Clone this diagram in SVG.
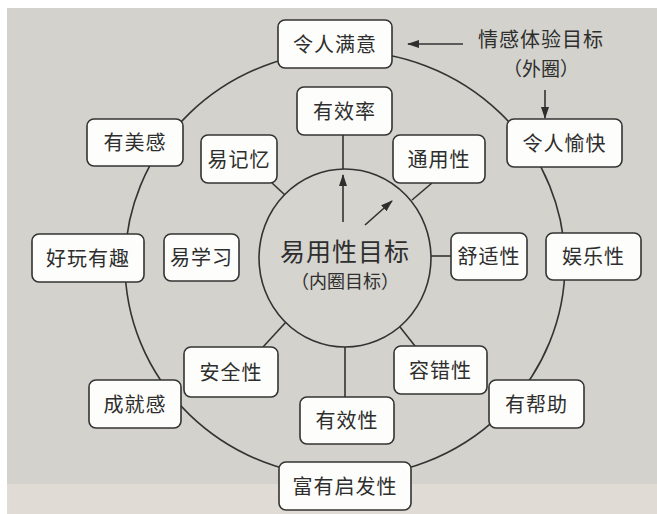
<svg xmlns="http://www.w3.org/2000/svg" width="657" height="514" viewBox="0 0 657 514">
<defs>
<style>
.box{fill:#fdfdfb;stroke:#333;stroke-width:1.6}
.t{font-family:"Noto Sans CJK SC","Noto Sans CJK JP",sans-serif;font-size:20px;fill:#2e2e2e;text-anchor:middle;letter-spacing:1px}
.ln{stroke:#333;stroke-width:1.6;fill:none}
</style>
<marker id="ah" viewBox="0 0 12 8" refX="11" refY="4" markerWidth="12" markerHeight="8" markerUnits="userSpaceOnUse" orient="auto">
<path d="M0,0 L12,4 L0,8 Z" fill="#2e2e2e"/>
</marker>
</defs>
<rect x="0" y="0" width="657" height="514" fill="#ffffff"/>
<rect x="7" y="8" width="650" height="476" fill="#d3d2cc"/>
<rect x="7" y="484" width="650" height="30" fill="#e0dcd5"/>

<g id="outer-ring">
<ellipse class="ln" cx="345" cy="264" rx="220" ry="213"/>
</g>

<g id="center">
<ellipse cx="345" cy="258" rx="86" ry="89" fill="#d5d4ce" stroke="#333" stroke-width="1.6"/>
<text class="t" x="345" y="261" style="font-size:25px">易用性目标</text>
<text class="t" x="345" y="288" style="font-size:18px;letter-spacing:0">（内圈目标）</text>
</g>

<g id="connectors">
<line class="ln" x1="343" y1="135" x2="343" y2="169"/>
<line class="ln" x1="432" y1="183" x2="412" y2="200"/>
<line class="ln" x1="272" y1="183" x2="285" y2="195"/>
<line class="ln" x1="431" y1="256" x2="451" y2="256"/>
<line class="ln" x1="263" y1="347" x2="286" y2="322"/>
<line class="ln" x1="415" y1="346" x2="400" y2="327"/>
<line class="ln" x1="345" y1="347" x2="345" y2="397"/>
<line class="ln" x1="463" y1="44" x2="408" y2="44" marker-end="url(#ah)"/>
<line class="ln" x1="545" y1="90" x2="545" y2="118" marker-end="url(#ah)"/>
<line class="ln" x1="343" y1="222" x2="343" y2="175" marker-end="url(#ah)"/>
<line class="ln" x1="365" y1="225" x2="392" y2="201" marker-end="url(#ah)"/>
</g>

<g id="legend">
<text class="t" x="541" y="47" style="font-size:20px">情感体验目标</text>
<text class="t" x="541" y="76" style="font-size:19px;letter-spacing:0">（外圈）</text>
</g>

<g id="n-lingrenmanyi"><rect class="box" x="278" y="20" width="114" height="48" rx="7"/><text class="t" x="335" y="51.5">令人满意</text></g>
<g id="n-youxiaolv"><rect class="box" x="297" y="87" width="95" height="48" rx="7"/><text class="t" x="344.5" y="118.5">有效率</text></g>
<g id="n-lingrenyukuai"><rect class="box" x="507" y="119" width="115" height="48" rx="7"/><text class="t" x="564.5" y="150.5">令人愉快</text></g>
<g id="n-tongyongxing"><rect class="box" x="393" y="135" width="92" height="48" rx="7"/><text class="t" x="439" y="166.5">通用性</text></g>
<g id="n-youmeigan"><rect class="box" x="87" y="119" width="96" height="47" rx="7"/><text class="t" x="135" y="150">有美感</text></g>
<g id="n-yijiyi"><rect class="box" x="201" y="135" width="76" height="48" rx="7"/><text class="t" x="239" y="166.5">易记忆</text></g>
<g id="n-haowanyouqu"><rect class="box" x="32" y="234" width="112" height="48" rx="7"/><text class="t" x="88" y="265.5">好玩有趣</text></g>
<g id="n-yixuexi"><rect class="box" x="164" y="234" width="75" height="47" rx="7"/><text class="t" x="201.5" y="265">易学习</text></g>
<g id="n-shushixing"><rect class="box" x="451" y="233" width="76" height="47" rx="7"/><text class="t" x="489" y="264">舒适性</text></g>
<g id="n-yulexing"><rect class="box" x="546" y="233" width="95" height="47" rx="7"/><text class="t" x="593.5" y="264">娱乐性</text></g>
<g id="n-anquanxing"><rect class="box" x="184" y="347" width="94" height="50" rx="7"/><text class="t" x="231" y="379.5">安全性</text></g>
<g id="n-rongcuoxing"><rect class="box" x="394" y="346" width="93" height="48" rx="7"/><text class="t" x="440.5" y="377.5">容错性</text></g>
<g id="n-chengjiugan"><rect class="box" x="89" y="380" width="92" height="48" rx="7"/><text class="t" x="135" y="411.5">成就感</text></g>
<g id="n-youxiaoxing"><rect class="box" x="300" y="397" width="94" height="47" rx="7"/><text class="t" x="347" y="428">有效性</text></g>
<g id="n-youbangzhu"><rect class="box" x="489" y="380" width="95" height="48" rx="7"/><text class="t" x="536.5" y="411.5">有帮助</text></g>
<g id="n-fuyouqifaxing"><rect class="box" x="279" y="462" width="132" height="48" rx="7"/><text class="t" x="345" y="493.5">富有启发性</text></g>
</svg>
